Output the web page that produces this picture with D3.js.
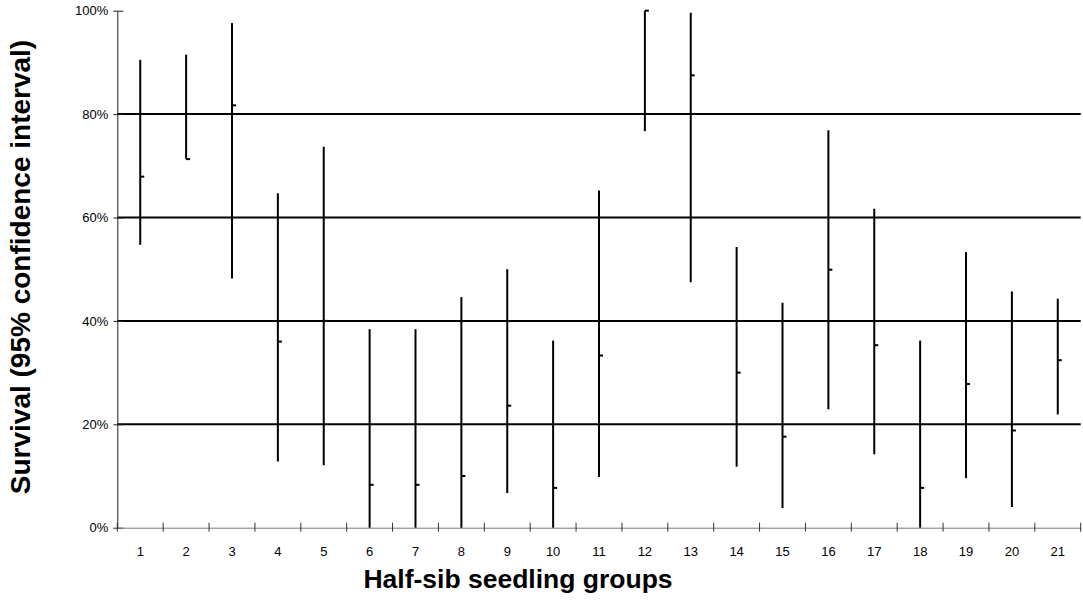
<!DOCTYPE html>
<html>
<head>
<meta charset="utf-8">
<script src="https://cdn.jsdelivr.net/npm/d3@7"></script>
<style>
  body { margin: 0; background: #fff; }
  text { font-family: "Liberation Sans", Arial, sans-serif; }
</style>
</head>
<body>
<div id="chart-area"></div>
<script>
// half-sib groups and survival CI (percent)
const groups = ["1","2","3","4","5","6","7","8","9","10","11","12","13","14","15","16","17","18","19","20","21"];
const upper = [90.5, 91.5, 97.6, 64.7, 73.7, 38.4, 38.4, 44.6, 50.0, 36.2, 65.2, 100, 99.6, 54.3, 43.5, 76.9, 61.7, 36.2, 53.3, 45.7, 44.3];
const lower = [54.7, 71.3, 48.2, 12.8, 12.1, 0, 0, 0, 6.7, 0, 9.8, 76.7, 47.5, 11.8, 3.8, 22.9, 14.2, 0, 9.6, 4.0, 21.9];
const estimate = [67.9, 71.3, 81.7, 36.0, 40.0, 8.3, 8.3, 10.0, 23.6, 7.7, 33.3, 100, 87.5, 30.0, 17.6, 49.9, 35.3, 7.7, 27.8, 18.8, 32.4];
const yTicks = [0, 20, 40, 60, 80, 100];

const width = 1083, height = 604;
const plot = {left: 117.3, right: 1080.7, top: 10.7, bottom: 527.7};

const svg = d3.select("#chart-area").append("svg")
    .attr("width", width).attr("height", height);

const x = d3.scaleBand()
    .domain(groups)
    .range([plot.left, plot.right]);
const y = d3.scaleLinear()
    .domain([0, 100])
    .range([plot.bottom, plot.top]);

// gridlines
svg.append("g").selectAll("line")
    .data(yTicks.filter(d => d > 0 && d < 100))
    .enter().append("line")
    .attr("x1", plot.left).attr("x2", plot.right)
    .attr("y1", d => y(d)).attr("y2", d => y(d))
    .attr("stroke", "#000").attr("stroke-width", 2);

// y axis
const yAxis = svg.append("g")
    .attr("transform", "translate(" + plot.left + ",0)")
    .call(d3.axisLeft(y).tickValues(yTicks).tickFormat(d => d + "%").tickSizeInner(-5).tickSizeOuter(0));
yAxis.select(".domain").attr("stroke", "#222");
yAxis.selectAll(".tick line").attr("x1", -4).attr("x2", 6).attr("stroke", "#222");
yAxis.selectAll(".tick text").attr("x", -9).attr("font-size", "13px")
    .attr("font-family", "Liberation Sans, Arial, sans-serif").attr("fill", "#000");

// x axis
const xAxis = svg.append("g")
    .attr("transform", "translate(0," + plot.bottom + ")")
    .call(d3.axisBottom(x).tickSize(0).tickPadding(19));
xAxis.select(".domain").attr("stroke", "#777");
xAxis.selectAll(".tick text").attr("font-size", "13px")
    .attr("font-family", "Liberation Sans, Arial, sans-serif").attr("fill", "#000");
// tick marks at band edges
const edges = groups.map(g => x(g)).concat([plot.right]);
xAxis.append("g").selectAll("line")
    .data(edges)
    .enter().append("line")
    .attr("x1", d => d).attr("x2", d => d)
    .attr("y1", -5).attr("y2", 4)
    .attr("stroke", "#333").attr("stroke-width", 1);

// high-low lines
const bars = svg.append("g").selectAll("g")
    .data(groups)
    .enter().append("g");
bars.append("line")
    .attr("x1", d => x(d) + x.bandwidth() / 2)
    .attr("x2", d => x(d) + x.bandwidth() / 2)
    .attr("y1", (d, i) => y(upper[i]))
    .attr("y2", (d, i) => y(lower[i]))
    .attr("stroke", "#000").attr("stroke-width", 2);
// close tick
bars.append("line")
    .attr("x1", d => x(d) + x.bandwidth() / 2)
    .attr("x2", d => x(d) + x.bandwidth() / 2 + 4)
    .attr("y1", (d, i) => y(estimate[i]))
    .attr("y2", (d, i) => y(estimate[i]))
    .attr("stroke", "#000").attr("stroke-width", 2);

// axis titles
svg.append("text")
    .attr("x", 518).attr("y", 588)
    .attr("text-anchor", "middle")
    .attr("font-size", "26.5px").attr("font-weight", "bold")
    .text("Half-sib seedling groups");

svg.append("text")
    .attr("transform", "translate(30,267) rotate(-90)")
    .attr("text-anchor", "middle")
    .attr("font-size", "28px").attr("font-weight", "bold")
    .text("Survival (95% confidence interval)");
</script>
</body>
</html>
